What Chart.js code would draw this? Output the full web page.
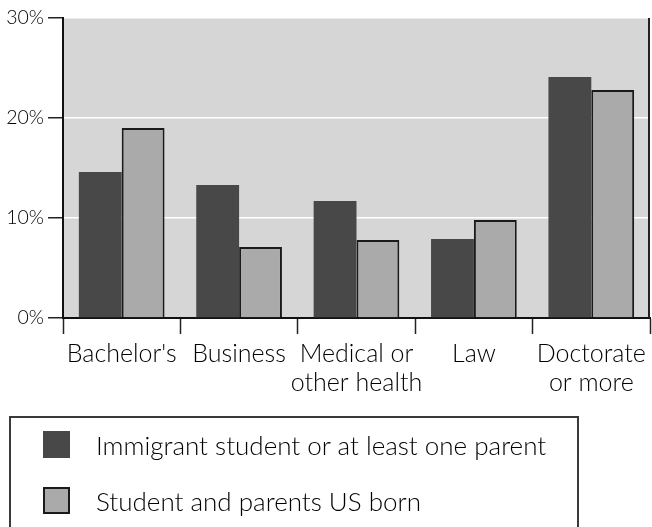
<!DOCTYPE html>
<html>
<head>
<meta charset="utf-8">
<script src="https://cdn.jsdelivr.net/npm/chart.js@4/dist/chart.umd.min.js"></script>
<style>
  html, body { margin: 0; padding: 0; background: #fff; }
  #wrap { position: relative; width: 652px; height: 527px; overflow: hidden; }
  #c { position: absolute; left: 0; top: 0; }
  #legend { position: absolute; left: 9px; top: 416px; width: 570px; height: 200px;
            border: 2px solid #3a3a3a; box-sizing: border-box; font-family: Lato, "Liberation Sans", sans-serif;
            font-weight: 300; color: #000; font-size: 26px; }
  .item { position: absolute; left: 32px; height: 27px; display: flex; align-items: center; }
  .sw { width: 27px; height: 27px; box-sizing: border-box; margin-right: 26px; }
</style>
</head>
<body>
<div id="wrap">
  <canvas id="c" width="652" height="527"></canvas>
  <div id="legend"></div>
</div>
<script>
const categories = ["Bachelor's", "Business", ["Medical or", "other health"], "Law", ["Doctorate", "or more"]];
const immigrantValues = [14.6, 13.3, 11.7, 7.9, 24.1];
const usBornValues = [19.0, 7.1, 7.8, 9.8, 22.8];
const seriesLabels = ["Immigrant student or at least one parent", "Student and parents US born"];
const yTicks = [0, 10, 20, 30];

const darkColor = '#484848';
const lightColor = '#aaaaaa';
const textColor = '#000000';

const bgPlugin = {
  id: 'plotBg',
  beforeDraw(chart) {
    const a = chart.chartArea, ctx = chart.ctx;
    ctx.save();
    ctx.fillStyle = '#d6d6d6';
    ctx.fillRect(a.left, a.top, a.right - a.left, a.bottom - a.top);
    ctx.restore();
  },
  afterDatasetsDraw(chart) {
    const a = chart.chartArea, ctx = chart.ctx;
    ctx.save();
    ctx.strokeStyle = '#222';
    ctx.lineWidth = 2;
    ctx.beginPath();
    ctx.moveTo(a.right - 1, a.top);
    ctx.lineTo(a.right - 1, a.bottom);
    ctx.stroke();
    ctx.restore();
  }
};

new Chart(document.getElementById('c'), {
  type: 'bar',
  data: {
    labels: categories,
    datasets: [
      { label: seriesLabels[0], data: immigrantValues, backgroundColor: darkColor, borderWidth: 0 },
      { label: seriesLabels[1], data: usBornValues, backgroundColor: lightColor, borderColor: '#1a1a1a', borderWidth: 2 }
    ]
  },
  options: {
    responsive: false,
    animation: false,
    devicePixelRatio: 1,
    categoryPercentage: 0.73,
    barPercentage: 1.0,
    layout: { padding: { top: 18, right: 2, left: 0, bottom: 0 } },
    plugins: { legend: { display: false }, tooltip: { enabled: false } },
    scales: {
      x: {
        afterFit(scale) { scale.height = 527 - 318; },
        grid: { drawOnChartArea: false, drawTicks: true, tickLength: 16, tickColor: '#222', tickWidth: 1.5, offset: true },
        border: { display: true, color: '#111', width: 2 },
        ticks: { color: textColor, font: { family: 'Lato', size: 25, weight: '300', lineHeight: 1.16 }, padding: 5, maxRotation: 0, autoSkip: false }
      },
      y: {
        min: 0, max: 30,
        afterFit(scale) { scale.width = 63; },
        afterBuildTicks(scale) { scale.ticks = yTicks.map(v => ({ value: v })); },
        grid: {
          color: (ctx) => ctx.tick && ctx.tick.value === 0 ? 'rgba(0,0,0,0)' : '#ffffff',
          lineWidth: 1.5, tickColor: '#222', tickLength: 15, tickWidth: 1.5
        },
        border: { display: true, color: '#111', width: 2 },
        ticks: { color: textColor, font: { family: 'Lato', size: 19.5, weight: '300' }, padding: 4, callback: v => v + '%' }
      }
    }
  },
  plugins: [bgPlugin]
});

const legend = document.getElementById('legend');
[[darkColor, 'none', 13], [lightColor, '2px solid #1a1a1a', 69]].forEach((s, i) => {
  const it = document.createElement('div');
  it.className = 'item';
  it.style.top = s[2] + 'px';
  const sw = document.createElement('div');
  sw.className = 'sw';
  sw.style.background = s[0];
  sw.style.border = s[1];
  const t = document.createElement('span');
  t.textContent = seriesLabels[i];
  it.appendChild(sw); it.appendChild(t);
  legend.appendChild(it);
});
</script>
</body>
</html>
